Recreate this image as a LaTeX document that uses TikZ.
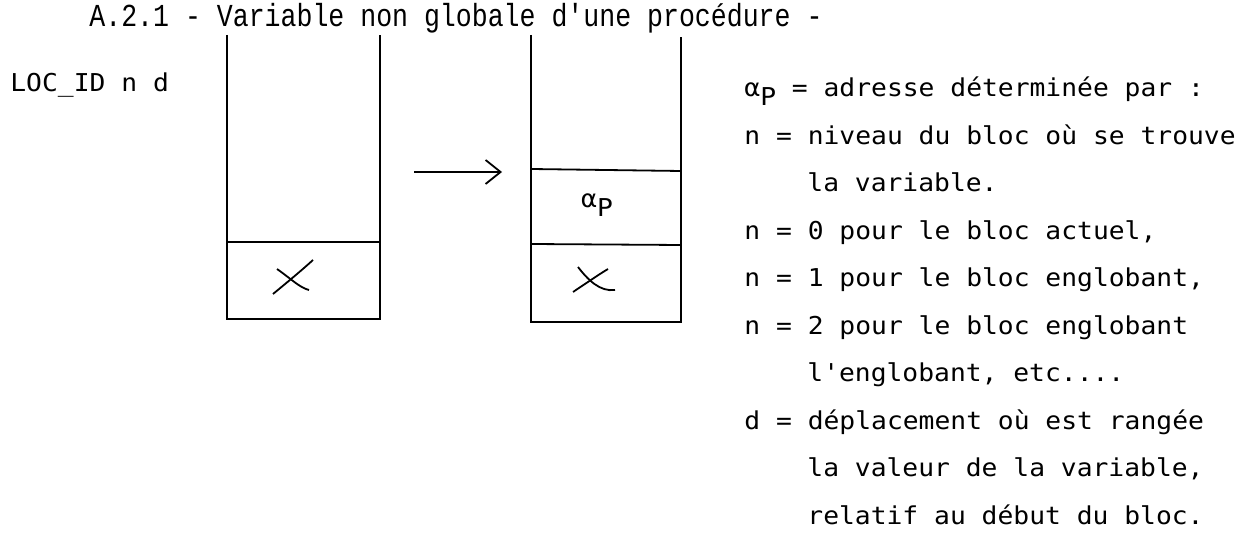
\documentclass[tikz,border=0pt]{standalone}
\usepackage{fontspec}
\usepackage{tikz}
\usetikzlibrary{arrows.meta}
\newfontfamily\plotfont[FakeStretch=1.07]{DejaVu Sans Mono}
\newfontfamily\typefont[FakeStretch=0.83]{Liberation Mono}
\newcommand{\alphaP}{α\raisebox{-4.5pt}{P}}

\begin{document}
\begin{tikzpicture}[x=0.5pt, y=-0.5pt,
    txt/.style={anchor=base west, inner sep=0pt, font=\plotfont\fontsize{12.3}{14}\selectfont},
    cell/.style={line width=0.9pt},
    arr/.style={-{Straight Barb[length=7.5pt, width=12pt]}, line width=0.9pt}
]
\useasboundingbox (0,0) rectangle (1241,533);

\node[anchor=base west, inner sep=0pt, font=\typefont\fontsize{16}{19}\selectfont] (title) at (89,27) {A.2.1 - Variable non globale d'une procédure -};

\node[txt] (loc) at (10,92) {LOC\_ID n d};

% pile avant
\draw[cell] (227,35) -- (227,319) -- (380,319) -- (380,35);
\draw[cell] (227,242) -- (380,242);
\draw[cell] (273,294) .. controls (290,280) and (302,270) .. (313,260);
\draw[cell] (277,269) .. controls (290,278) and (300,288) .. (309,290);

% pile apres
\draw[cell] (531,35) -- (531,322) -- (681,322) -- (681,37);
\draw[cell] (531,169) -- (681,171);
\draw[cell] (531,244) -- (681,245);
\node[txt, anchor=base] (ap) at (597,208) {\alphaP};
\draw[cell] (578,267) .. controls (588,280) and (600,292) .. (615,290);
\draw[cell] (573,292) .. controls (588,282) and (598,275) .. (608,269);

\coordinate (arrtail) at (414,172);
\coordinate (arrhead) at (502,172);
\draw[arr] (arrtail) -- (arrhead);

% legende
\node[txt] (def)  at (744,97)    {\alphaP{} = adresse déterminée par :};
\node[txt] (niv)  at (744,144.5) {n = niveau du bloc où se trouve};
\node[txt] (niv2) at (807,192)   {la variable.};
\node[txt] (n0)   at (744,239.5) {n = 0 pour le bloc actuel,};
\node[txt] (n1)   at (744,287)   {n = 1 pour le bloc englobant,};
\node[txt] (n2)   at (744,334.5) {n = 2 pour le bloc englobant};
\node[txt] (n2b)  at (807,382)   {l'englobant, etc....};
\node[txt] (dep)  at (744,429.5) {d = déplacement où est rangée};
\node[txt] (dep2) at (807,477)   {la valeur de la variable,};
\node[txt] (dep3) at (807,524.5) {relatif au début du bloc.};
\end{tikzpicture}
\end{document}
